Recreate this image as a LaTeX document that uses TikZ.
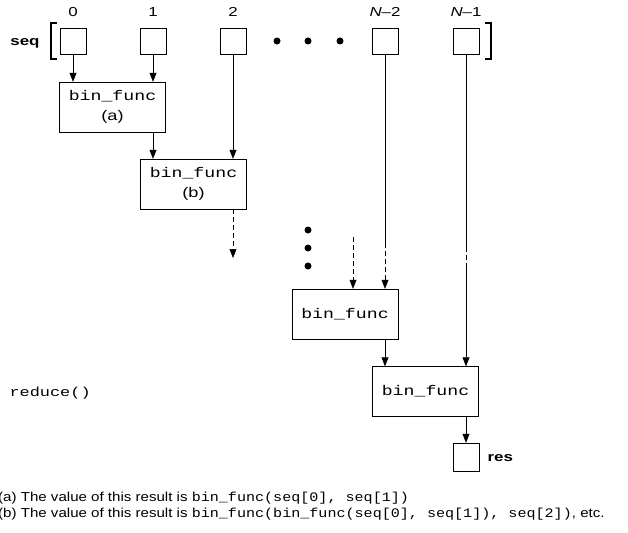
\documentclass[tikz,border=0pt]{standalone}
\usepackage{fontspec}
\setmainfont{Liberation Sans}
\setmonofont{Liberation Mono}
\usetikzlibrary{arrows.meta}
\newcommand{\wx}[1]{\scalebox{1.3}[1]{#1}}
\newcommand{\wc}[1]{\scalebox{1.16}[1]{#1}}
\begin{document}
\begin{tikzpicture}[x=1pt,y=-1pt,
  cell/.style={draw,minimum width=26pt,minimum height=26pt,inner sep=0pt},
  fn/.style={draw,minimum width=106pt,minimum height=50pt,inner sep=0pt,align=center,font=\fontsize{14}{20}\selectfont},
  lab/.style={font=\fontsize{13}{14}\selectfont},
  ar/.style={-{Triangle[width=7pt,length=9pt]},line width=0.6pt},
  dsh/.style={dash pattern=on 5pt off 3pt,line width=0.6pt},
  dot/.style={circle,fill,inner sep=0pt,minimum size=7pt}]
\useasboundingbox (0,0) rectangle (628,532);
\fill[white] (0,0) rectangle (628,532);
% cells
\node[cell] (s0) at (73,41) {};
\node[cell] (s1) at (153,41) {};
\node[cell] (s2) at (233,41) {};
\node[cell] (s3) at (385,41) {};
\node[cell] (s4) at (466,41) {};
\node[lab] (l0) at (73,12) {\wx{0}};
\node[lab] (l1) at (153,12) {\wx{1}};
\node[lab] (l2) at (233,12) {\wx{2}};
\node[lab] (l3) at (385,12) {\wx{\textit{N}–2}};
\node[lab] (l4) at (466,12) {\wx{\textit{N}–1}};
\node[lab,font=\fontsize{13}{14}\selectfont\bfseries] (seq) at (25,43) {\wx{seq}};
\draw[line width=2pt] (57,23) -- (51,23) -- (51,59) -- (57,59);
\draw[line width=2pt] (485,23) -- (491,23) -- (491,59) -- (485,59);
\node[dot] (d1) at (277,41) {};
\node[dot] (d2) at (308,41) {};
\node[dot] (d3) at (340,41) {};
% function boxes
\node[fn] (fa) at (112.5,107) {\wx{\texttt{bin\_func}}\\\wx{(a)}};
\node[fn] (fb) at (193.5,184) {\wx{\texttt{bin\_func}}\\\wx{(b)}};
\node[fn] (fc) at (345,314) {\wx{\texttt{bin\_func}}};
\node[fn] (fd) at (425.5,391.5) {\wx{\texttt{bin\_func}}};
\node[cell,minimum height=28pt] (res) at (466,457) {};
\node[lab,font=\fontsize{13}{14}\selectfont\bfseries,anchor=west] (rl) at (484,458) {\wx{res}};
\node[font=\ttfamily\fontsize{13}{14}\selectfont,anchor=west] (rd) at (6,393) {\wx{reduce()}};
\node[dot] (v1) at (308,230) {};
\node[dot] (v2) at (308,248) {};
\node[dot] (v3) at (308,266) {};
% arrows
\draw[ar] (s0) -- (fa.north -| s0);
\draw[ar] (s1) -- (fa.north -| s1);
\draw[ar] (fa.south -| s1) -- (fb.north -| s1);
\draw[ar] (s2) -- (fb.north -| s2);
\coordinate (bo) at (233,258);
\coordinate (bm) at (233,249);
\draw[dsh] (fb.south -| s2) -- (bm);
\draw[ar] (bm) -- (bo);
\coordinate (ci) at (353,237);
\coordinate (cm) at (353,281);
\draw[dsh] (ci) -- (cm);
\draw[ar] (cm) -- (fc.north -| ci);
\coordinate (n2) at (385,243);
\coordinate (n2m) at (385,281);
\draw[line width=0.6pt] (s3) -- (n2);
\draw[dsh] (n2) -- (n2m);
\draw[ar] (n2m) -- (fc.north -| s3);
\draw[ar] (fc.south -| s3) -- (fd.north -| s3);
\coordinate (n4a) at (466,247);
\coordinate (n4b) at (466,268);
\draw[line width=0.6pt] (s4) -- (n4a);
\draw[dsh] (n4a) -- (n4b);
\draw[ar] (n4b) -- (fd.north -| s4);
\draw[ar] (fd.south -| s4) -- (res);
% captions
\node[lab,anchor=west,inner sep=0pt] (ca) at (-2,498) {\wc{(a) The value of this result is \texttt{bin\_func(seq[0], seq[1])}}};
\node[lab,anchor=west,inner sep=0pt] (cb) at (-2,514) {\wc{(b) The value of this result is \texttt{bin\_func(bin\_func(seq[0], seq[1]), seq[2])}, etc.}};
\end{tikzpicture}
\end{document}
